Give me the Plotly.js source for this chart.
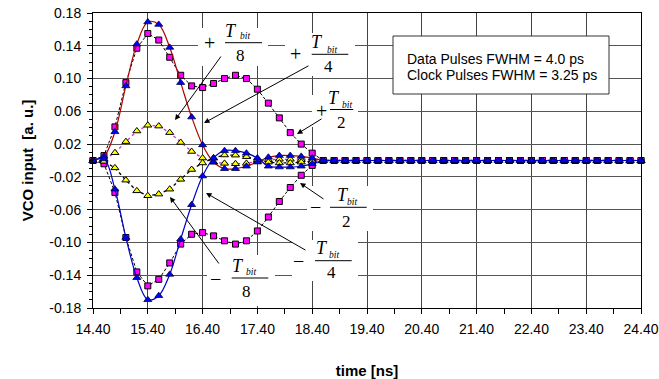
<!DOCTYPE html>
<html><head><meta charset="utf-8">
<script src="https://cdn.plot.ly/plotly-3.0.1.min.js"></script>
<style>html,body{margin:0;padding:0;background:#fff}</style>
</head><body><div id="chart" style="width:659px;height:379px"></div>
<script>
// ---- data ----
const time = [14.4,14.6,14.8,15.0,15.2,15.4,15.6,15.8,16.0,16.2,16.4,16.6,16.8,17.0,17.2,17.4,17.6,17.8,18.0,18.2,18.4,18.6,18.8,19.0,19.2,19.4,19.6,19.8,20.0,20.2,20.4,20.6,20.8,21.0,21.2,21.4,21.6,21.8,22.0,22.2,22.4,22.6,22.8,23.0,23.2,23.4,23.6,23.8,24.0,24.2,24.4];
const plusHalf = [0,0.006,0.041,0.095,0.137,0.155,0.147,0.126,0.104,0.091,0.089,0.094,0.100,0.104,0.100,0.087,0.070,0.052,0.034,0.020,0.009,0,0,0,0,0,0,0,0,0,0,0,0,0,0,0,0,0,0,0,0,0,0,0,0,0,0,0,0,0,0];
const minusHalf = [0,-0.004,-0.039,-0.094,-0.136,-0.153,-0.145,-0.125,-0.102,-0.090,-0.088,-0.092,-0.098,-0.102,-0.098,-0.086,-0.069,-0.050,-0.033,-0.018,-0.006,0,0,0,0,0,0,0,0,0,0,0,0,0,0,0,0,0,0,0,0,0,0,0,0,0,0,0,0,0,0];
const plusQuarter = [0,0.005,0.035,0.091,0.142,0.169,0.166,0.138,0.095,0.053,0.019,-0.002,-0.010,-0.010,-0.007,-0.002,0.004,0.006,0.006,0.005,0.003,0,0,0,0,0,0,0,0,0,0,0,0,0,0,0,0,0,0,0,0,0,0,0,0,0,0,0,0,0,0];
const minusQuarter = [0,0.002,-0.035,-0.094,-0.143,-0.170,-0.165,-0.139,-0.096,-0.054,-0.019,0.003,0.012,0.012,0.009,0.003,-0.007,-0.008,-0.008,-0.007,-0.004,0,0,0,0,0,0,0,0,0,0,0,0,0,0,0,0,0,0,0,0,0,0,0,0,0,0,0,0,0,0];
const plusEighth = [0,0.001,0.0095,0.023,0.036,0.043,0.042,0.034,0.022,0.011,0.003,-0.002,-0.0035,-0.004,-0.0035,-0.001,0.001,0.0015,0.0015,0.001,0.0005,0,0,0,0,0,0,0,0,0,0,0,0,0,0,0,0,0,0,0,0,0,0,0,0,0,0,0,0,0,0];
const minusEighth = [0,-0.001,-0.009,-0.024,-0.037,-0.043,-0.041,-0.035,-0.023,-0.011,-0.003,0.003,0.0067,0.0065,0.0046,0.001,-0.002,-0.003,-0.003,-0.002,-0.001,0,0,0,0,0,0,0,0,0,0,0,0,0,0,0,0,0,0,0,0,0,0,0,0,0,0,0,0,0,0];
const xTickVals = [14.4,15.4,16.4,17.4,18.4,19.4,20.4,21.4,22.4,23.4,24.4];
const xTickText = ['14.40','15.40','16.40','17.40','18.40','19.40','20.40','21.40','22.40','23.40','24.40'];
const yTickVals = [0.18,0.14,0.10,0.06,0.02,-0.02,-0.06,-0.10,-0.14,-0.18];
const yTickText = ['0.18','0.14','0.10','0.06','0.02','-0.02','-0.06','-0.10','-0.14','-0.18'];
const legendLines = ['Data Pulses FWHM = 4.0 ps','Clock Pulses FWHM = 3.25 ps'];

// ---- layout geometry (pixels) ----
const W = 659, H = 379, ML = 93, MT = 13, MR = 18, MB = 71;
const PW = W - ML - MR, PH = H - MT - MB;
const XR = [14.4, 24.4], YR = [-0.18, 0.18];
const fx = px => XR[0] + (px - ML) / PW * (XR[1] - XR[0]);
const fy = py => YR[1] - (py - MT) / PH * (YR[1] - YR[0]);

const serif = 'Liberation Serif, Times New Roman, serif';
const sans = 'Liberation Sans, Arial, sans-serif';

const labels = [
  {sign:'+', den:'8', s:[209.3,42.7], T:[231,30.5], b:[245,36], bar:[225,262,42.7], d:[240.7,55], box:[198,28,268,66], arr:[222,55,175,120]},
  {sign:'+', den:'4', s:[295,54.3], T:[316.7,41.7], b:[331.7,50], bar:[311.7,348.3,54.3], d:[328.3,66.7], box:[285,33,355,76], arr:[310,65,204,123]},
  {sign:'+', den:'2', s:[321.7,110.5], T:[334.3,98.3], b:[346.7,105], bar:[330,353.3,109.5], d:[341.7,122], box:[312,95,358,127], arr:[323,118,297,134]},
  {sign:'\u2212', den:'2', s:[315,206.7], T:[343.3,195], b:[352,201.7], bar:[330,366.7,207.3], d:[346.5,221.7], box:[307,186,373,231], arr:[325,200,300,183]},
  {sign:'\u2212', den:'4', s:[298.3,260.7], T:[321.7,248.3], b:[334,255], bar:[315,351.7,260.7], d:[331.7,272.7], box:[292,240,358,281], arr:[307,251,206,193]},
  {sign:'\u2212', den:'8', s:[215,279], T:[238.3,265.7], b:[250.7,272.3], bar:[231.7,268.3,278], d:[246.7,291.3], box:[207,255,275,306], arr:[220,265,170,197]}
];

const shapes = [];
const annotations = [];
function txt(px, py, text, size, xanchor){
  annotations.push({x:fx(px), y:fy(py), xref:'x', yref:'y', text:text, showarrow:false,
    xanchor:xanchor||'center', yanchor:'middle', font:{family:serif, size:size, color:'#000'}});
}
labels.forEach(L => {
  shapes.push({type:'rect', layer:'between', xref:'x', yref:'y', x0:fx(L.box[0]), x1:fx(L.box[2]), y0:fy(L.box[1]), y1:fy(L.box[3]), fillcolor:'#fff', line:{width:0}});
  shapes.push({type:'line', layer:'above', xref:'x', yref:'y', x0:fx(L.bar[0]), x1:fx(L.bar[1]), y0:fy(L.bar[2]), y1:fy(L.bar[2]), line:{color:'#000', width:1}});
  txt(L.s[0], L.s[1], L.sign, 20);
  txt(L.T[0], L.T[1], '<i>T</i>', 18);
  txt(L.b[0], L.b[1], '<i>bit</i>', 9.5);
  txt(L.d[0], L.d[1], L.den, 17);
  annotations.push({x:fx(L.arr[2]), y:fy(L.arr[3]), ax:fx(L.arr[0]), ay:fy(L.arr[1]), xref:'x', yref:'y', axref:'x', ayref:'y',
    text:'', showarrow:true, arrowhead:2, arrowsize:1.1, arrowwidth:1, arrowcolor:'#000', standoff:0, startstandoff:0});
});
// info box
shapes.push({type:'rect', layer:'between', xref:'x', yref:'y', x0:fx(393), x1:fx(609), y0:fy(36), y1:fy(94), fillcolor:'#fff', line:{color:'#333', width:1}});
[59.3, 75].forEach((py, i) => {
  annotations.push({x:fx(405), y:fy(py), xref:'x', yref:'y', text:legendLines[i], showarrow:false, xanchor:'left', yanchor:'middle', font:{family:sans, size:14, color:'#000'}});
});

const sq = {symbol:'square', size:6, color:'#ff00ff', line:{color:'#000', width:1}};
const yt = {symbol:'triangle-up', size:7, color:'#ffff00', line:{color:'#000', width:1}};
const bt = {symbol:'triangle-up', size:7, color:'#0000ff', line:{color:'#000040', width:0.8}};
const traces = [
  {x:time, y:plusHalf, mode:'lines+markers', line:{color:'#000', width:1, dash:'3px,2px'}, marker:sq, cliponaxis:false},
  {x:time, y:minusHalf, mode:'lines+markers', line:{color:'#000', width:1, dash:'3px,2px'}, marker:sq, cliponaxis:false},
  {x:time, y:plusEighth, mode:'lines+markers', line:{color:'#cc33cc', width:1.3, dash:'dot'}, marker:yt, cliponaxis:false},
  {x:time, y:minusEighth, mode:'lines+markers', line:{color:'#000', width:1.3, dash:'dot'}, marker:yt, cliponaxis:false},
  {x:time, y:plusQuarter, mode:'lines+markers', line:{color:'#b00000', width:1.2, shape:'spline', smoothing:1}, marker:bt, cliponaxis:false},
  {x:time, y:minusQuarter, mode:'lines+markers', line:{color:'#0000cc', width:1.2, shape:'spline', smoothing:1}, marker:bt, cliponaxis:false}
];

const layout = {
  width:W, height:H, autosize:false, showlegend:false,
  margin:{l:ML, r:MR, t:MT, b:MB, pad:0},
  paper_bgcolor:'#fff', plot_bgcolor:'#fff',
  font:{family:sans, size:14, color:'#000'},
  xaxis:{range:XR, tickmode:'array', tickvals:xTickVals, ticktext:xTickText,
    showgrid:true, gridcolor:'#444', gridwidth:1, zeroline:false,
    showline:true, linecolor:'#000', linewidth:1, mirror:true,
    ticks:'outside', ticklen:5, tickcolor:'#000',
    minor:{tick0:14.4, dtick:0.5, ticks:'outside', ticklen:5, tickcolor:'#000', showgrid:false},
    tickfont:{family:sans, size:14, color:'#000'}, ticklabelstandoff:3,
    title:{text:'<b>time [ns]</b>', font:{family:sans, size:15, color:'#000'}, standoff:30}},
  yaxis:{range:YR, tickmode:'array', tickvals:yTickVals, ticktext:yTickText,
    showgrid:true, gridcolor:'#555', gridwidth:1, zeroline:false,
    showline:true, linecolor:'#000', linewidth:1, mirror:true,
    ticks:'outside', ticklen:5, tickcolor:'#000',
    minor:{tick0:0.18, dtick:0.01, ticks:'outside', ticklen:3, tickcolor:'#000', showgrid:false},
    tickfont:{family:sans, size:14, color:'#000'}, ticklabelstandoff:3,
    title:{text:'<b>VCO input\u00a0\u00a0[a. u.]</b>', font:{family:sans, size:15, color:'#000'}, standoff:12}},
  shapes:shapes, annotations:annotations
};
Plotly.newPlot('chart', traces, layout, {displayModeBar:false, staticPlot:true});
</script>
</body></html>
